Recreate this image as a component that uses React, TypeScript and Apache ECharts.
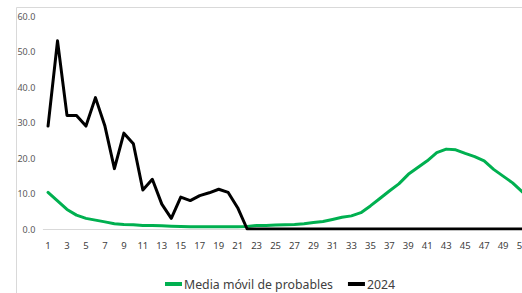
import React, { useEffect, useRef } from "react";
import * as echarts from "echarts";

const weeks: string[] = Array.from({ length: 52 }, (_, i) => String(i + 1));

const movingAverage: number[] = [
  10.3, 7.9, 5.5, 3.9, 3.0, 2.5, 2.0, 1.5, 1.3, 1.2,
  1.0, 1.0, 0.9, 0.8, 0.7, 0.6, 0.6, 0.6, 0.6, 0.6,
  0.6, 0.7, 1.0, 1.0, 1.1, 1.2, 1.3, 1.5, 1.8, 2.1,
  2.7, 3.3, 3.7, 4.6, 6.5, 8.6, 10.7, 12.7, 15.4, 17.3,
  19.2, 21.5, 22.5, 22.3, 21.3, 20.4, 19.2, 16.8, 14.9, 13.0,
  10.5, 8.5,
];

const year2024: number[] = [
  29, 53, 32, 32, 29, 37, 29, 17, 27, 24,
  11, 14, 7, 3, 9, 8, 9.4, 10.2, 11.2, 10.3,
  6, 0, 0, 0, 0, 0, 0, 0, 0, 0,
  0, 0, 0, 0, 0, 0, 0, 0, 0, 0,
  0, 0, 0, 0, 0, 0, 0, 0, 0, 0,
  0, 0,
];

const yTicks = { min: 0, max: 60, interval: 10 };

export default function App() {
  const ref = useRef<HTMLDivElement>(null);
  useEffect(() => {
    if (!ref.current) return;
    const chart = echarts.init(ref.current, null, { renderer: "svg" });
    const font = "'Noto Sans', sans-serif";
    chart.setOption({
      animation: false,
      backgroundColor: "#ffffff",
      graphic: [
        {
          type: "rect",
          shape: { x: 16.5, y: 7.5, width: 700, height: 400 },
          style: { fill: "none", stroke: "#d9d9d9", lineWidth: 1 },
          silent: true,
        },
      ],
      grid: { left: 43.3, right: 23.7, top: 16, bottom: 293 - 229 },
      xAxis: {
        type: "category",
        data: weeks,
        boundaryGap: true,
        axisLine: { show: true, lineStyle: { color: "#d9d9d9", width: 1 } },
        axisTick: { show: false },
        axisLabel: {
          interval: 1,
          color: "#404040",
          fontSize: 9.5,
          fontFamily: font,
          margin: 11,
        },
        splitLine: { show: false },
      },
      yAxis: {
        type: "value",
        min: yTicks.min,
        max: yTicks.max,
        interval: yTicks.interval,
        axisLine: { show: false },
        axisTick: { show: false },
        splitLine: { show: false },
        axisLabel: {
          formatter: (v: number) => v.toFixed(1),
          color: "#595959",
          fontSize: 9,
          fontFamily: font,
          margin: 8,
        },
      },
      legend: {
        left: 160,
        top: 273,
        itemWidth: 17,
        itemHeight: 4,
        itemGap: 15,
        icon: "rect",
        textStyle: { color: "#404040", fontSize: 12.3, fontFamily: font, padding: [0, 0, 0, -3] },
        data: ["Media móvil de probables", "2024"],
      },
      series: [
        {
          name: "Media móvil de probables",
          type: "line",
          data: movingAverage,
          symbol: "none",
          smooth: false,
          lineStyle: { color: "#00B050", width: 3, join: "round", cap: "round" },
          itemStyle: { color: "#00B050" },
        },
        {
          name: "2024",
          type: "line",
          data: year2024,
          symbol: "none",
          lineStyle: { color: "#000000", width: 3, join: "round", cap: "round" },
          itemStyle: { color: "#000000" },
        },
      ],
    });
    return () => chart.dispose();
  }, []);
  return (
    <div
      style={{
        position: "fixed",
        left: 0,
        top: 0,
        width: 522,
        height: 293,
        overflow: "hidden",
        background: "#fff",
      }}
    >
      <div ref={ref} style={{ width: 560, height: 293 }} />
    </div>
  );
}
